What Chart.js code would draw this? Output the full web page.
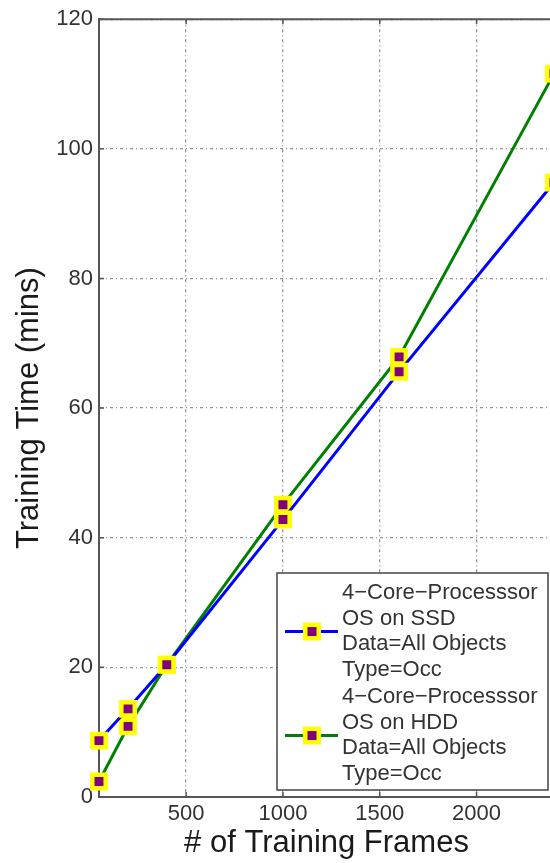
<!DOCTYPE html>
<html>
<head>
<meta charset="utf-8">
<title>Training time vs frames</title>
<script src="https://cdn.jsdelivr.net/npm/chart.js@4.4.0/dist/chart.umd.min.js"></script>
<style>
  html, body { margin: 0; padding: 0; overflow: hidden; background: #fff; }
  #wrap { width: 570px; height: 863px; }
</style>
</head>
<body>
<div id="wrap"><canvas id="trainChart" width="570" height="863"></canvas></div>
<script>
// number of training frames and training time (mins) per setup
const frames = [50, 200, 400, 1000, 1600, 2400];
const ssdTimes = [8.7, 13.6, 20.4, 42.8, 65.6, 94.8];
const hddTimes = [2.4, 10.9, 20.4, 45.1, 67.9, 111.6];

const ssdLabel = ['4\u2212Core\u2212Processsor', 'OS on SSD', 'Data=All Objects', 'Type=Occ'];
const hddLabel = ['4\u2212Core\u2212Processsor', 'OS on HDD', 'Data=All Objects', 'Type=Occ'];

const xTicks = [500, 1000, 1500, 2000];
const yTicks = [0, 20, 40, 60, 80, 100, 120];

const FONT = '"Liberation Sans", Arial, Helvetica, sans-serif';

function toPoints(ys) {
    return frames.map((x, i) => ({ x: x, y: ys[i] }));
}

// top border + inward tick marks, like a matlab axes box
const axesBox = {
    id: 'axesBox',
    beforeDatasetsDraw(chart) {
        const { ctx, chartArea, scales } = chart;
        ctx.save();
        ctx.strokeStyle = '#555';
        ctx.lineWidth = 2;
        ctx.beginPath();
        ctx.moveTo(chartArea.left, chartArea.top);
        ctx.lineTo(chartArea.right, chartArea.top);
        ctx.lineTo(chartArea.right, chartArea.bottom);
        ctx.stroke();
        ctx.lineWidth = 1.5;
        ctx.beginPath();
        xTicks.forEach(v => {
            const px = scales.x.getPixelForValue(v);
            ctx.moveTo(px, chartArea.bottom);
            ctx.lineTo(px, chartArea.bottom - 5);
            ctx.moveTo(px, chartArea.top);
            ctx.lineTo(px, chartArea.top + 5);
        });
        yTicks.forEach(v => {
            const py = scales.y.getPixelForValue(v);
            ctx.moveTo(chartArea.left, py);
            ctx.lineTo(chartArea.left + 5, py);
        });
        ctx.stroke();
        ctx.restore();
    }
};

// legend drawn inside the plot, bottom right
const legendBox = {
    id: 'legendBox',
    afterDatasetsDraw(chart) {
        const { ctx, chartArea } = chart;
        const legendText = [ssdLabel, hddLabel];
        const w = 271, h = 217;
        const right = chartArea.right - 6;
        const bottom = chartArea.bottom - 7;
        const left = right - w, top = bottom - h;
        const lineGap = 25.7;

        ctx.save();
        ctx.fillStyle = '#fff';
        ctx.fillRect(left, top, w, h);
        ctx.strokeStyle = '#444';
        ctx.lineWidth = 1.5;
        ctx.strokeRect(left, top, w, h);

        ctx.font = '22px ' + FONT;
        ctx.textBaseline = 'middle';
        chart.data.datasets.forEach((ds, i) => {
            const gy = top + 20 + i * 104;
            ctx.fillStyle = '#333';
            legendText[i].forEach((t, j) => ctx.fillText(t, left + 65, gy + j * lineGap));

            const my = gy + 1.5 * lineGap;
            const mx = left + 35;
            ctx.strokeStyle = ds.borderColor;
            ctx.lineWidth = 3;
            ctx.beginPath();
            ctx.moveTo(left + 8, my);
            ctx.lineTo(left + 61, my);
            ctx.stroke();
            ctx.fillStyle = ds.pointBorderColor;
            ctx.fillRect(mx - 9, my - 9, 18, 18);
            ctx.fillStyle = ds.pointBackgroundColor;
            ctx.fillRect(mx - 4.5, my - 4.5, 9, 9);
        });
        ctx.restore();
    }
};

const ctx = document.getElementById('trainChart').getContext('2d');
new Chart(ctx, {
    type: 'line',
    data: {
        datasets: [
            {
                label: ssdLabel.join(' '),
                data: toPoints(ssdTimes),
                borderColor: '#0000ff',
                borderWidth: 3,
                pointStyle: 'rect',
                pointRadius: 9.5,
                pointBorderWidth: 4.5,
                pointBackgroundColor: '#800080',
                pointBorderColor: '#ffff00',
                tension: 0,
                clip: false
            },
            {
                label: hddLabel.join(' '),
                data: toPoints(hddTimes),
                borderColor: '#008000',
                borderWidth: 3,
                pointStyle: 'rect',
                pointRadius: 9.5,
                pointBorderWidth: 4.5,
                pointBackgroundColor: '#800080',
                pointBorderColor: '#ffff00',
                tension: 0,
                clip: false
            }
        ]
    },
    options: {
        responsive: false,
        animation: false,
        layout: { padding: { top: 16, right: 16, left: 0, bottom: 0 } },
        plugins: {
            legend: { display: false },
            tooltip: { enabled: false }
        },
        scales: {
            x: {
                type: 'linear',
                min: 50,
                max: 2400,
                afterBuildTicks: s => { s.ticks = xTicks.map(v => ({ value: v })); },
                afterFit: s => { s.height = 66; },
                grid: { color: '#959595', lineWidth: 1.3, drawTicks: false },
                border: { color: '#555', width: 2, dash: [3, 3, 1, 3] },
                ticks: {
                    padding: 4,
                    color: '#333',
                    font: { size: 22, family: FONT },
                    callback: v => String(v)
                },
                title: {
                    display: true,
                    text: '# of Training Frames',
                    color: '#1a1a1a',
                    font: { size: 31, family: FONT },
                    padding: { top: 0, bottom: 1 }
                }
            },
            y: {
                min: 0,
                max: 120,
                afterBuildTicks: s => { s.ticks = yTicks.map(v => ({ value: v })); },
                afterFit: s => { s.width = 99; },
                grid: { color: '#959595', lineWidth: 1.3, drawTicks: false },
                border: { color: '#555', width: 2, dash: [3, 3, 1, 3] },
                ticks: {
                    padding: 6,
                    color: '#333',
                    font: { size: 22, family: FONT },
                    callback: v => String(v)
                },
                title: {
                    display: true,
                    text: 'Training Time (mins)',
                    color: '#1a1a1a',
                    font: { size: 31, family: FONT },
                    padding: { top: 11, bottom: 0 }
                }
            }
        }
    },
    plugins: [axesBox, legendBox]
});
</script>
</body>
</html>
